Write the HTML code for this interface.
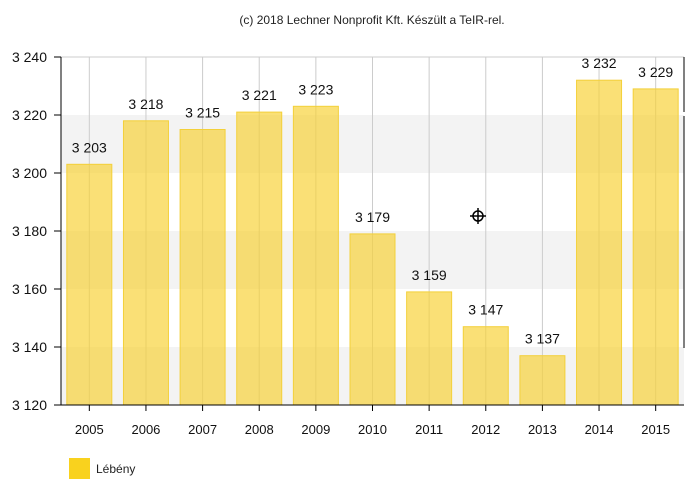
<!DOCTYPE html>
<html><head><meta charset="utf-8"><style>
body{margin:0;background:#fff;}
svg{display:block;font-family:"Liberation Sans","DejaVu Sans",sans-serif;}
</style></head><body>
<svg id="chart" width="695" height="489">
<text x="372" y="24" font-size="12" text-anchor="middle" fill="#222">(c) 2018 Lechner Nonprofit Kft. Készült a TeIR-rel.</text>
<g id="gridLayer"></g><g id="barLayer"></g><g id="axisLayer"></g>
<rect x="69" y="458" width="21" height="21" fill="#f9d21e"/>
<text x="96" y="473" font-size="12" fill="#222">Lébény</text>
<g stroke="#000" stroke-width="1.5" fill="none"><circle cx="478" cy="216" r="5"/><line x1="470" y1="216" x2="486" y2="216"/><line x1="478" y1="208" x2="478" y2="224"/></g>
</svg>
<script>
var categories=["2005","2006","2007","2008","2009","2010","2011","2012","2013","2014","2015"];
var values=[3203,3218,3215,3221,3223,3179,3159,3147,3137,3232,3229];
var valueLabels=["3 203","3 218","3 215","3 221","3 223","3 179","3 159","3 147","3 137","3 232","3 229"];
var yTicks=[3120,3140,3160,3180,3200,3220,3240];
var yTickLabels=["3 120","3 140","3 160","3 180","3 200","3 220","3 240"];
var SVGNS="http://www.w3.org/2000/svg";
var PL=61,PR=684,PT=57,PB=405,YMIN=3120,YMAX=3240;
var STEP=(PR-PL)/categories.length;
function yScale(v){return PB-(v-YMIN)/(YMAX-YMIN)*(PB-PT);}
function xCenter(i){return PL+STEP*(i+0.5);}
function mk(p,tag,a){var e=document.createElementNS(SVGNS,tag);for(var k in a){e.setAttribute(k,a[k]);}p.appendChild(e);return e;}
var gridLayer=document.getElementById('gridLayer');
var barLayer=document.getElementById('barLayer');
var axisLayer=document.getElementById('axisLayer');
for(var k=0;k<yTicks.length-1;k+=2){
  var band=mk(gridLayer,'rect',{x:PL,y:yScale(yTicks[k+1]),width:PR-PL,height:yScale(yTicks[k])-yScale(yTicks[k+1]),fill:'#f3f3f3'});
  
  
}
mk(gridLayer,'line',{x1:PL,y1:PT,x2:PR,y2:PT,stroke:'#ccc'});
for(var i=0;i<categories.length;i++){
  var gl=mk(gridLayer,'line',{x1:xCenter(i),y1:PT,x2:xCenter(i),y2:PB,stroke:'#ccc'});
  
  
}
for(var j=0;j<values.length;j++){
  var bw=45;
  var bar=mk(barLayer,'rect',{x:xCenter(j)-bw/2,y:yScale(values[j]),width:bw,height:PB-yScale(values[j]),fill:'#f8d235','fill-opacity':0.68,stroke:'#f3d03a'});
  
  
  var vl=mk(barLayer,'text',{x:xCenter(j),y:yScale(values[j])-12,'font-size':14,'text-anchor':'middle',fill:'#111'});
  vl.textContent=valueLabels[j];
  
  
  var xl=mk(axisLayer,'text',{x:xCenter(j),y:434,'font-size':13,'text-anchor':'middle',fill:'#111'});
  xl.textContent=categories[j];
  
  
  mk(axisLayer,'line',{x1:xCenter(j),y1:PB,x2:xCenter(j),y2:PB+6,stroke:'#000'});
}
for(var m=0;m<yTicks.length;m++){
  mk(axisLayer,'line',{x1:PL-7,y1:yScale(yTicks[m]),x2:PL,y2:yScale(yTicks[m]),stroke:'#000'});
  var yl=mk(axisLayer,'text',{x:47,y:yScale(yTicks[m])+5,'font-size':14,'text-anchor':'end',fill:'#111'});
  yl.textContent=yTickLabels[m];
  
  
}
mk(axisLayer,'line',{x1:PL,y1:PT,x2:PL,y2:PB,stroke:'#000'});
mk(axisLayer,'line',{x1:PL-7,y1:PB,x2:PR,y2:PB,stroke:'#000'});
mk(axisLayer,'line',{x1:PR,y1:PT,x2:PR,y2:112,stroke:'#000'});
mk(axisLayer,'line',{x1:PR,y1:116,x2:PR,y2:348,stroke:'#000'});
</script>
</body></html>
